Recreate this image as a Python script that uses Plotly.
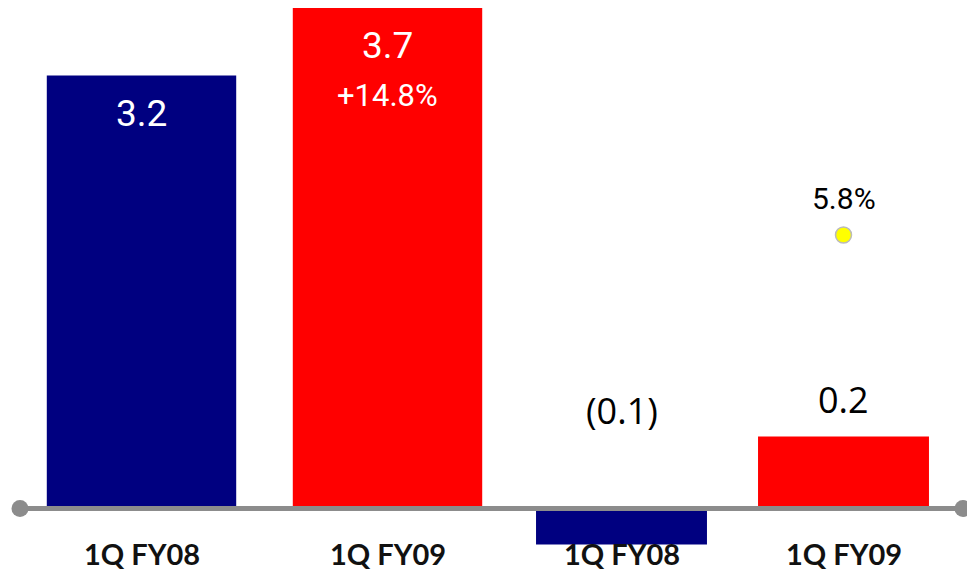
import plotly.graph_objects as go

# Quarterly figures (billions), two panels sharing one baseline
quarters = ["1Q FY08", "1Q FY09"]
sales = [3.2, 3.7]
sales_growth = "+14.8%"
income = [-0.1, 0.2]
margin_quarter = "1Q FY09"
margin_pct = [5.8]

bar_colors = ["#000080", "#FF0000"]

W, H_TOTAL = 967, 571
M_T, M_B = 0, 26
PLOT_H = H_TOTAL - M_T - M_B
ZERO_PX = 508.5  # baseline position from the top of the plot area


def axis_range(px_per_unit):
    return [-(PLOT_H - ZERO_PX) / px_per_unit, ZERO_PX / px_per_unit]


def fmt(v):
    return f"({abs(v):.1f})" if v < 0 else f"{v:.1f}"


fig = go.Figure()

fig.add_trace(go.Bar(x=quarters, y=sales, marker=dict(color=bar_colors, line_width=0),
                     xaxis="x", yaxis="y", hoverinfo="skip"))
fig.add_trace(go.Bar(x=quarters, y=income, marker=dict(color=bar_colors, line_width=0),
                     xaxis="x2", yaxis="y2", hoverinfo="skip"))
fig.add_trace(go.Scatter(x=[margin_quarter], y=margin_pct, mode="markers",
                         marker=dict(color="#FFFF00", size=16, line=dict(color="#BBBBBB", width=1.5)),
                         xaxis="x2", yaxis="y3", hoverinfo="skip"))

ann = []
value_font = dict(family="Roboto", size=37, color="white")
for q, v in zip(quarters, sales):
    ann.append(dict(x=q, y=v, xref="x", yref="y", text=fmt(v), showarrow=False,
                    yanchor="middle", yshift=-38, font=value_font))
ann.append(dict(x=quarters[1], y=sales[1], xref="x", yref="y", text=sales_growth,
                showarrow=False, yanchor="middle", yshift=-88,
                font=dict(family="Roboto", size=31, color="white")))
for q, v in zip(quarters, income):
    ann.append(dict(x=q, y=max(v, 0), xref="x2", yref="y2", text=fmt(v), showarrow=False,
                    yanchor="middle", yshift=98.5 if v < 0 else 37,
                    font=dict(family="Open Sans", size=36, color="black")))
ann.append(dict(x=margin_quarter, y=margin_pct[0], xref="x2", yref="y3",
                text=f"{margin_pct[0]:.1f}%", showarrow=False, yanchor="middle", yshift=37,
                font=dict(family="Roboto", size=30, color="black")))

# Category labels under each panel
cat_font = dict(family="Lato", size=29, color="#111111", weight="bold")
for xref in ("x", "x2"):
    for q in quarters:
        ann.append(dict(x=q, y=0, xref=xref, yref="paper", text=q, showarrow=False,
                        yanchor="middle", yshift=-8, font=cat_font))

line_color = "#8C8C8C"
shapes = [
    dict(type="line", xref="paper", yref="y", x0=20 / W, x1=963 / W, y0=0, y1=0,
         line=dict(color=line_color, width=5), layer="above"),
]
for xp in (20, 963):
    shapes.append(dict(type="circle", xref="paper", yref="y", xsizemode="pixel", ysizemode="pixel",
                       xanchor=xp / W, yanchor=0, x0=-8.5, x1=8.5, y0=-8.5, y1=8.5,
                       fillcolor=line_color, line=dict(color=line_color, width=0), layer="above"))

common_x = dict(showgrid=False, zeroline=False, showline=False, ticks="", showticklabels=False,
                fixedrange=True, automargin=False)
common_y = dict(showgrid=False, zeroline=False, showline=False, showticklabels=False, ticks="",
                fixedrange=True, automargin=False)

fig.update_layout(
    width=W, height=H_TOTAL,
    margin=dict(l=0, r=0, t=M_T, b=M_B, pad=0, autoexpand=False),
    paper_bgcolor="white", plot_bgcolor="white",
    showlegend=False, bargap=0.23,
    xaxis=dict(domain=[18.5 / W, 510.5 / W], anchor="y", **common_x),
    xaxis2=dict(domain=[510.5 / W, 954.5 / W], anchor="y2", **common_x),
    yaxis=dict(range=axis_range(135.3), anchor="x", **common_y),
    yaxis2=dict(range=axis_range(360), anchor="x2", **common_y),
    yaxis3=dict(range=axis_range(273.5 / 5.8), overlaying="y2", anchor="x2", **common_y),
    annotations=ann,
    shapes=shapes,
)

fig.write_html("out.html")
